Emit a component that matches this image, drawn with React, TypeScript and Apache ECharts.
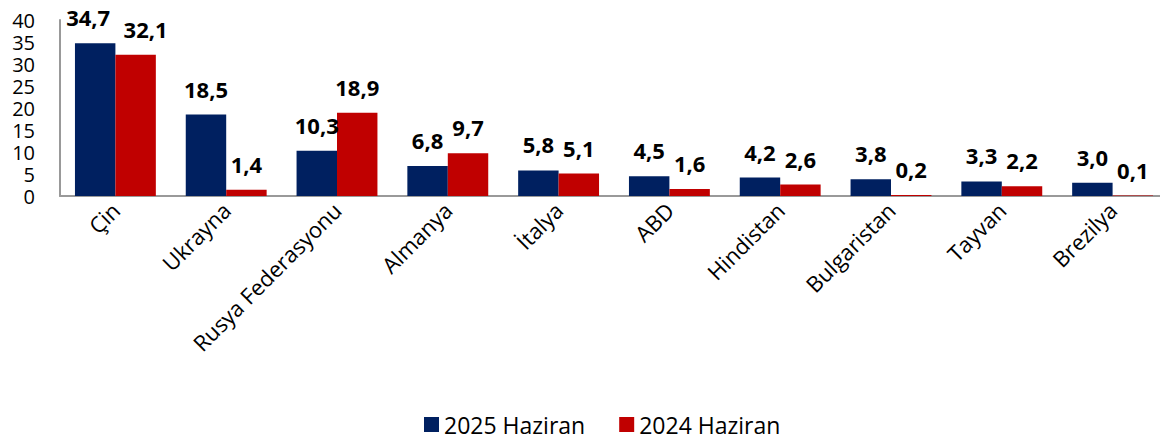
import React, { useEffect, useRef } from "react";
import * as echarts from "echarts";

const categories = ["Çin", "Ukrayna", "Rusya Federasyonu", "Almanya", "İtalya", "ABD", "Hindistan", "Bulgaristan", "Tayvan", "Brezilya"];
const series2025 = [34.7, 18.5, 10.3, 6.8, 5.8, 4.5, 4.2, 3.8, 3.3, 3.0];
const series2024 = [32.1, 1.4, 18.9, 9.7, 5.1, 1.6, 2.6, 0.2, 2.2, 0.1];
const seriesNames = ["2025 Haziran", "2024 Haziran"];

const fmt = (v: number) => v.toFixed(1).replace(".", ",");

export default function App() {
  const ref = useRef<HTMLDivElement>(null);
  useEffect(() => {
    const chart = echarts.init(ref.current!, null, { renderer: "svg" });
    const labelStyle = {
      show: true,
      position: "top" as const,
      distance: 15,
      fontFamily: "Open Sans",
      fontWeight: "bold" as const,
      fontSize: 22,
      color: "#000",
      formatter: (p: any) => fmt(p.value),
    };
    const withOffset = (vals: number[], firstOffset: number[]) =>
      vals.map((v, i) => (i === 0 ? { value: v, label: { offset: firstOffset } } : v));
    chart.setOption({
      animation: false,
      grid: { left: 60, right: 0, top: 20, bottom: 248, containLabel: false },
      legend: {
        bottom: 3,
        left: 419,
        itemWidth: 15,
        itemHeight: 15,
        itemGap: 34,
        icon: "rect",
        textStyle: { fontFamily: "Open Sans", fontSize: 23, color: "#000" },
        data: seriesNames,
      },
      xAxis: {
        type: "category",
        data: categories,
        axisLine: { lineStyle: { color: "#999", width: 2 } },
        axisTick: { show: false },
        axisLabel: {
          rotate: 45,
          interval: 0,
          margin: 10,
          fontFamily: "Open Sans",
          fontSize: 22,
          color: "#000",
        },
      },
      yAxis: {
        type: "value",
        min: 0,
        max: 40,
        interval: 5,
        splitLine: { show: false },
        axisLine: { show: true, lineStyle: { color: "#999", width: 2 } },
        axisTick: { show: false },
        axisLabel: {
          margin: 25,
          fontFamily: "Open Sans",
          fontSize: 20,
          color: "#000",
          lineHeight: 20,
        },
      },
      series: [
        {
          name: seriesNames[0],
          type: "bar",
          data: withOffset(series2025, [-7, 0]),
          barGap: "0%",
          barCategoryGap: "27%",
          itemStyle: { color: "#002060" },
          label: labelStyle,
        },
        {
          name: seriesNames[1],
          type: "bar",
          data: withOffset(series2024, [10, 0]),
          itemStyle: { color: "#C00000" },
          label: labelStyle,
        },
      ],
    });
    return () => chart.dispose();
  }, []);
  return <div ref={ref} style={{ width: 1168, height: 444, margin: -8 }} />;
}
